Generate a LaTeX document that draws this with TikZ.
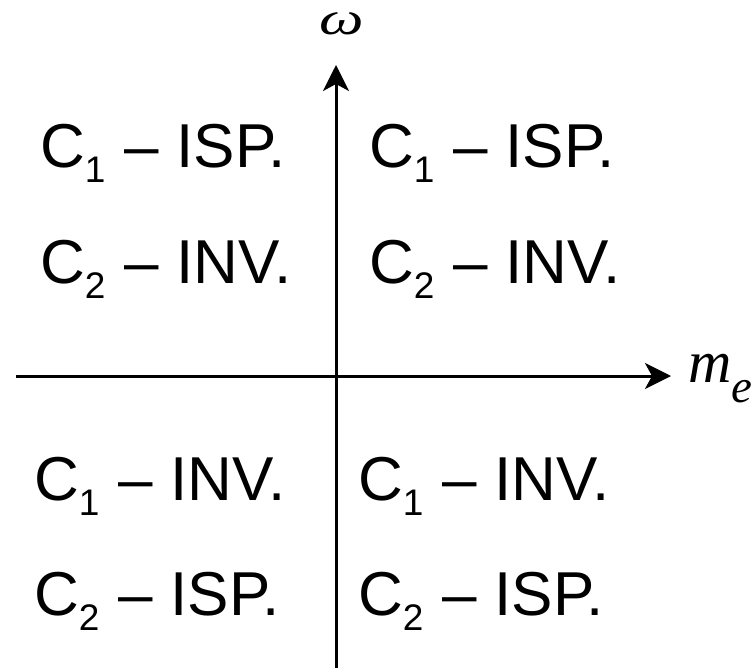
\documentclass[tikz,border=0pt]{standalone}
\usepackage{fontspec}
\setmainfont{Liberation Sans}
\newfontfamily\tnr{Liberation Serif}
\usetikzlibrary{arrows.meta}
\newcommand\qlbl[2]{C\raisebox{-15pt}{\fontsize{37}{37}\selectfont #1}\hspace{2pt} – #2}
\tikzset{
  axis/.style={line width=3pt, -{Stealth[length=26pt,width=26pt,inset=7pt]}},
  qtext/.style={anchor=base west, inner sep=0pt, font=\fontsize{62}{62}\selectfont},
  axlabel/.style={inner sep=0pt, font=\fontsize{60}{60}\selectfont\tnr\itshape}
}
\begin{document}
\begin{tikzpicture}[x=1pt,y=-1pt]
\useasboundingbox (0,0) rectangle (751,668);
\coordinate (xs) at (16,376);
\coordinate (xe) at (671,376);
\coordinate (ys) at (336,668);
\coordinate (ye) at (336,65);
\draw[axis] (xs) -- (xe);
\draw[axis] (ys) -- (ye);
\node[axlabel, anchor=base] (w) at (342,35) {\scalebox{1.05}[0.78]{ω}};
\node[axlabel, anchor=base west] (me) at (688,382) {m\raisebox{-20pt}{\fontsize{47}{47}\selectfont e}};
\node[qtext] (a1) at (40,168) {\qlbl{1}{ISP.}};
\node[qtext] (a2) at (40,283) {\qlbl{2}{INV.}};
\node[qtext] (b1) at (369,168) {\qlbl{1}{ISP.}};
\node[qtext] (b2) at (369,283) {\qlbl{2}{INV.}};
\node[qtext] (c1) at (34,500) {\qlbl{1}{INV.}};
\node[qtext] (c2) at (34,615) {\qlbl{2}{ISP.}};
\node[qtext] (d1) at (358,500) {\qlbl{1}{INV.}};
\node[qtext] (d2) at (358,615) {\qlbl{2}{ISP.}};
\end{tikzpicture}
\end{document}
